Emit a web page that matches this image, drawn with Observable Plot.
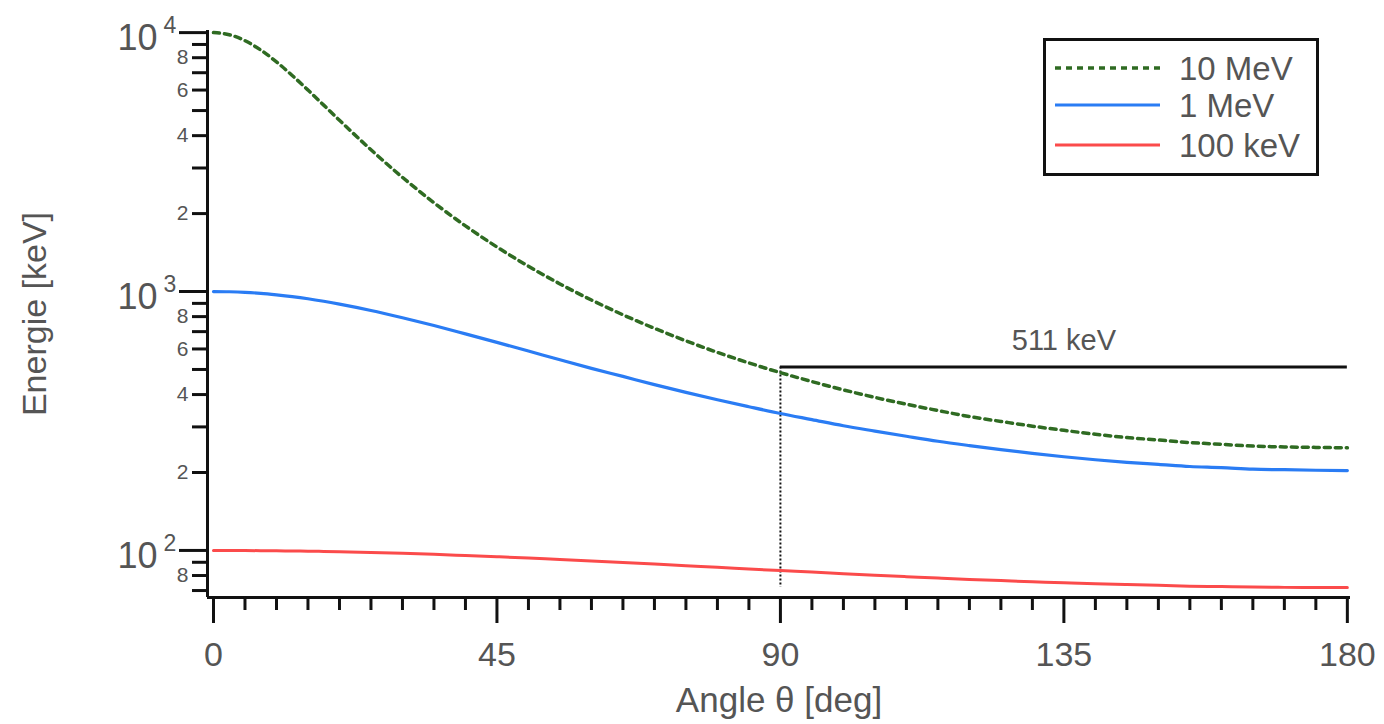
<!DOCTYPE html>
<html>
<head>
<meta charset="utf-8">
<script src="https://cdn.jsdelivr.net/npm/d3@7"></script>
<script src="https://cdn.jsdelivr.net/npm/@observablehq/plot@0.6"></script>
<style>
  html, body { margin: 0; padding: 0; background: #fff; }
  #wrap { position: relative; width: 1384px; height: 724px; }
  #legend { position: absolute; left: 1043px; top: 38px; }
</style>
</head>
<body>
<div id="wrap">
  <div id="chart"></div>
  <svg id="legend" width="276" height="138"></svg>
</div>
<script>
// ---- data ----
const angles = [0,2.5,5,7.5,10,12.5,15,17.5,20,25,30,35,40,45,50,55,60,65,70,75,80,85,90,95,100,105,110,115,120,125,130,135,140,145,150,155,160,165,170,175,180];
const energy10MeV = [10000,9817,9307,8566,7708,6831,6000,5247,4587,3529,2761,2203,1793,1486,1252,1070,927,813,721,645,582,530,486,449,417,390,367,347,329,315,302,291,281,273,267,261,257,253,251,250,249];
const energy1MeV = [1000,998,993,984,971,956,938,917,894,845,792,739,686,636,589,545,505,470,437,408,382,359,338,320,303,289,276,264,254,245,237,230,224,219,215,211,209,206,205,204,203.5];
const energy100keV = [100,100,99.9,99.8,99.7,99.5,99.3,99.1,98.8,98.2,97.5,96.6,95.6,94.6,93.5,92.3,91.1,89.9,88.6,87.3,86.1,84.8,83.6,82.5,81.3,80.2,79.2,78.2,77.3,76.5,75.7,75.0,74.3,73.8,73.3,72.8,72.5,72.2,72.0,71.9,71.9];
const seriesNames = ["10 MeV", "1 MeV", "100 keV"];
const seriesColors = ["#2f6b22", "#2a7cf4", "#fb4b4b"];
const annihilationEnergy = 511;          // keV
const annihilationLabel = "511 keV";
const annihilationAngles = [90, 180];    // horizontal line extent
const dropLineBottom = 72;               // vertical dotted line lower end (keV)
const xMajorTicks = [0, 45, 90, 135, 180];
const xMinorTicks = [5,10,15,20,25,30,35,40,50,55,60,65,70,75,80,85,95,100,105,110,115,120,125,130,140,145,150,155,160,165,170,175];
const yMajorTicks = [100, 1000, 10000];
const yMajorExponents = ["2", "3", "4"];
const yMinorTicks = [70,80,90,200,300,400,500,600,700,800,900,2000,3000,4000,5000,6000,7000,8000,9000];
const yMinorLabelled = [80,200,400,600,800,2000,4000,6000,8000];
const yMinorLabels = ["8","2","4","6","8","2","4","6","8"];
const xDomain = [-0.95, 180.5];
const yDomain = [65.8, 10190];
const xTitle = "Angle θ [deg]";
const yTitle = "Energie [keV]";

const toRows = (vals, name) => angles.map((a, i) => ({angle: a, energy: vals[i], series: name}));
const rows10 = toRows(energy10MeV, seriesNames[0]);
const rows1 = toRows(energy1MeV, seriesNames[1]);
const rows100 = toRows(energy100keV, seriesNames[2]);

const gray = "#555";
const font = "'Liberation Sans', Arial, sans-serif";

const chart = Plot.plot({
  width: 1384,
  height: 724,
  marginLeft: 207,
  marginRight: 34,
  marginTop: 30,
  marginBottom: 127,
  x: {domain: xDomain, axis: null},
  y: {type: "log", domain: yDomain, axis: null},
  style: {fontFamily: font, background: "#fff"},
  marks: [
    // frame axes
    Plot.ruleX([xDomain[0]], {stroke: "#111", strokeWidth: 3}),
    Plot.ruleY([yDomain[0]], {stroke: "#111", strokeWidth: 3}),
    // y ticks
    Plot.axisY({ticks: yMajorTicks, tickSize: 28, strokeWidth: 3, stroke: "#111", fill: "none", label: null}),
    Plot.axisY({ticks: yMinorTicks, tickSize: 15, strokeWidth: 3, stroke: "#111", fill: "none", label: null}),
    // y labels
    Plot.text(yMajorTicks, {y: d => d, frameAnchor: "left", text: () => "10", textAnchor: "end", lineAnchor: "middle", dx: -50, dy: 6, fontSize: 36, fill: gray}),
    Plot.text(yMajorTicks, {y: d => d, frameAnchor: "left", text: (d, i) => yMajorExponents[i], textAnchor: "start", lineAnchor: "middle", dx: -44, dy: -7, fontSize: 23, fill: gray}),
    Plot.text(yMinorLabelled, {y: d => d, frameAnchor: "left", text: (d, i) => yMinorLabels[i], textAnchor: "end", lineAnchor: "middle", dx: -19, fontSize: 21, fill: gray}),
    // x ticks
    Plot.axisX({ticks: xMajorTicks, tickSize: 26, strokeWidth: 3, stroke: "#111", fill: "none", label: null}),
    Plot.axisX({ticks: xMinorTicks, tickSize: 13, strokeWidth: 3, stroke: "#111", fill: "none", label: null}),
    Plot.text(xMajorTicks, {x: d => d, frameAnchor: "bottom", text: d => String(d), lineAnchor: "middle", dy: 58, fontSize: 34, fill: gray}),
    // axis titles
    Plot.text([xTitle], {frameAnchor: "bottom", textAnchor: "middle", lineAnchor: "middle", dy: 103, fontSize: 35, fill: gray}),
    Plot.text([yTitle], {frameAnchor: "left", textAnchor: "middle", lineAnchor: "middle", rotate: -90, dx: -172, fontSize: 34, fill: gray}),
    // 511 keV reference
    Plot.ruleX([annihilationAngles[0]], {y1: annihilationEnergy, y2: dropLineBottom, stroke: "#111", strokeWidth: 2, strokeDasharray: "2,2"}),
    Plot.ruleY([annihilationEnergy], {x1: annihilationAngles[0], x2: annihilationAngles[1], stroke: "#111", strokeWidth: 3}),
    Plot.text([annihilationLabel], {x: (annihilationAngles[0] + annihilationAngles[1]) / 2, y: annihilationEnergy, dy: -26, fontSize: 29, fill: gray}),
    // curves
    Plot.line(rows100, {x: "angle", y: "energy", stroke: seriesColors[2], strokeWidth: 3, curve: "monotone-x"}),
    Plot.line(rows1, {x: "angle", y: "energy", stroke: seriesColors[1], strokeWidth: 3.2, curve: "monotone-x"}),
    Plot.line(rows10, {x: "angle", y: "energy", stroke: seriesColors[0], strokeWidth: 3.5, strokeDasharray: "6,5", curve: "monotone-x"})
  ]
});
document.getElementById("chart").appendChild(chart);

// legend
const lg = d3.select("#legend");
lg.append("rect").attr("x", 1.5).attr("y", 1.5).attr("width", 273).attr("height", 135)
  .attr("fill", "#fff").attr("stroke", "#111").attr("stroke-width", 3);
const legendYs = [30, 67, 107];
seriesNames.forEach((name, i) => {
  lg.append("line").attr("x1", 12).attr("x2", 117).attr("y1", legendYs[i]).attr("y2", legendYs[i])
    .attr("stroke", seriesColors[i]).attr("stroke-width", i === 0 ? 3.5 : 3.2)
    .attr("stroke-dasharray", i === 0 ? "6,5" : null);
  lg.append("text").attr("x", 136).attr("y", legendYs[i]).attr("dy", "0.35em")
    .attr("font-family", font).attr("font-size", 33).attr("fill", gray).text(name);
});
</script>
</body>
</html>
